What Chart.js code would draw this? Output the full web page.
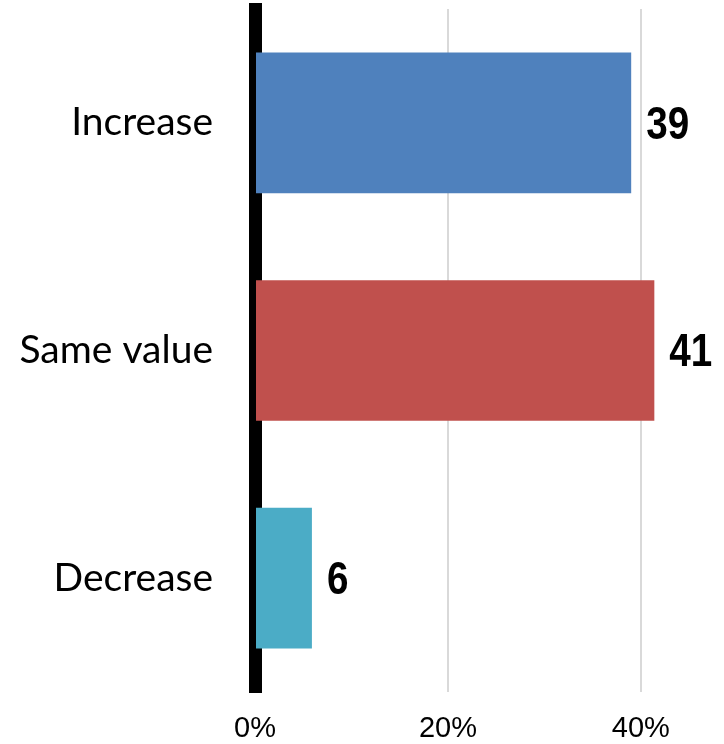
<!DOCTYPE html>
<html>
<head>
<meta charset="utf-8">
<script src="https://cdn.jsdelivr.net/npm/chart.js@4.4.1/dist/chart.umd.min.js"></script>
<style>
  html, body { margin: 0; padding: 0; background: #fff; }
  #wrap { width: 724px; height: 744px; }
</style>
</head>
<body>
<div id="wrap"><canvas id="grafico" width="724" height="744"></canvas></div>
<script>
const categorias = ['Increase', 'Same value', 'Decrease'];
const valores = [39, 41.4, 5.9];
const cores = ['#4F81BD', '#C0504D', '#4BACC6'];
const ticksX = [0, 20, 40];

// rotulos de valor na ponta de cada barra (fonte condensada)
const rotulos = {
    id: 'rotulos',
    afterDatasetsDraw(chart) {
        const ctx = chart.ctx;
        const meta = chart.getDatasetMeta(0);
        ctx.save();
        ctx.font = 'bold 46px "Liberation Sans", Arial';
        ctx.fillStyle = '#000';
        ctx.textAlign = 'left';
        ctx.textBaseline = 'middle';
        meta.data.forEach((bar, i) => {
            ctx.save();
            ctx.translate(bar.x + 15, bar.y + 3);
            ctx.scale(0.84, 1);
            ctx.fillText(String(Math.round(valores[i])), 0, 0);
            ctx.restore();
        });
        ctx.restore();
    }
};

const ctx = document.getElementById('grafico').getContext('2d');
new Chart(ctx, {
    type: 'bar',
    data: {
        labels: categorias,
        datasets: [{
            data: valores,
            backgroundColor: cores,
            borderWidth: 0,
            categoryPercentage: 1,
            barPercentage: 0.618
        }]
    },
    options: {
        indexAxis: 'y',
        responsive: false,
        animation: false,
        layout: { padding: { top: 9, right: 6, left: 0, bottom: 0 } },
        plugins: { legend: { display: false }, tooltip: { enabled: false } },
        scales: {
            x: {
                min: 0,
                max: 48,
                afterBuildTicks: (scale) => {
                    scale.ticks = ticksX.map(v => ({ value: v }));
                },
                afterFit: (scale) => {
                    scale.height = 52;
                    scale.paddingLeft = 0;
                    scale.paddingRight = 0;
                },
                grid: { color: '#D9D9D9', lineWidth: 2, drawTicks: false },
                border: { display: false },
                ticks: {
                    padding: 20,
                    color: '#000',
                    font: { family: '"Liberation Sans", Arial', size: 29 },
                    callback: (v) => v + '%'
                }
            },
            y: {
                afterFit: (scale) => {
                    scale.width = 255;
                    scale.paddingTop = 0;
                    scale.paddingBottom = 0;
                },
                grid: { display: false, drawTicks: false },
                border: { display: true, color: '#000', width: 13 },
                ticks: {
                    padding: 42,
                    color: '#000',
                    font: { family: 'Lato', size: 39 }
                }
            }
        }
    },
    plugins: [rotulos]
});
</script>
</body>
</html>
